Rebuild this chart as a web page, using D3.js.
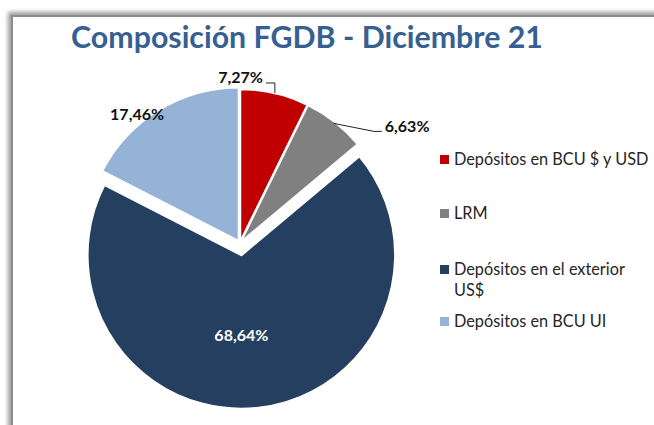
<!DOCTYPE html>
<html>
<head>
<meta charset="utf-8">
<script src="https://cdn.jsdelivr.net/npm/d3@7"></script>
<style>
  body { margin: 0; background: #fff; }
  svg { display: block; }
</style>
</head>
<body>
<div id="chart"></div>
<script>
// data
const categories = ["Depósitos en BCU $ y USD", "LRM", "Depósitos en el exterior US$", "Depósitos en BCU UI"];
const shares = [7.27, 6.63, 68.64, 17.46];
const valueLabels = ["7,27%", "6,63%", "68,64%", "17,46%"];
const legendLines = [["Depósitos en BCU $ y USD"], ["LRM"], ["Depósitos en el exterior", "US$"], ["Depósitos en BCU UI"]];
const colors = ["#C00000", "#808080", "#253F61", "#95B3D7"];
const titleText = "Composición FGDB - Diciembre 21";

const W = 654, H = 425;
const cx = 240, cy = 243, radius = 154;
const explode = [0, 0, 12, 2];

const svg = d3.select("#chart").append("svg")
    .attr("width", W)
    .attr("height", H);

// frame with soft shadow
const defs = svg.append("defs");
defs.append("filter").attr("id", "blur")
    .attr("x", "-10%").attr("y", "-10%").attr("width", "120%").attr("height", "120%")
    .append("feGaussianBlur").attr("stdDeviation", 2.2);

svg.append("rect")
    .attr("x", 11).attr("y", 15).attr("width", 760).attr("height", 520)
    .attr("fill", "none").attr("stroke", "#9a9a9a").attr("stroke-width", 6)
    .attr("filter", "url(#blur)");
svg.append("rect")
    .attr("x", 12).attr("y", 16).attr("width", 760).attr("height", 520)
    .attr("fill", "#fff").attr("stroke", "#8c8c8c").attr("stroke-width", 2);

// title
const title = svg.append("text")
    .attr("x", 307).attr("y", 48)
    .attr("text-anchor", "middle")
    .style("font-family", "Lato, 'Open Sans', sans-serif")
    .style("font-weight", "bold")
    .style("font-size", "29px")
    .style("fill", "#376092")
    .text(titleText);
// fit width to the reference (71 -> 543)
const tw = title.node().getComputedTextLength();
title.style("font-size", (29 * 472 / tw) + "px");

// pie
const pie = d3.pie().sort(null).value(d => d)(shares);
const arc = d3.arc().innerRadius(0).outerRadius(radius);

const g = svg.append("g").attr("transform", `translate(${cx},${cy})`);

function polar(a, r) {
    return [r * Math.sin(a), -r * Math.cos(a)];
}

g.selectAll("path.slice")
    .data(pie)
    .enter()
    .append("path")
        .attr("class", "slice")
        .attr("d", arc)
        .attr("transform", function(d, i) {
            const m = (d.startAngle + d.endAngle) / 2;
            const p = polar(m, explode[i]);
            return `translate(${p[0]},${p[1]})`;
        })
        .style("fill", (d, i) => colors[i])
        .style("stroke", "#fff")
        .style("stroke-width", 2.5)
        .style("stroke-linejoin", "round");

// labels
const labelFont = "Lato, 'Open Sans', sans-serif";
pie.forEach(function(d, i) {
    const m = (d.startAngle + d.endAngle) / 2;
    const e = polar(m, explode[i]);
    const t = g.append("text")
        .style("font-family", labelFont)
        .style("font-weight", "bold")
        .style("font-size", "16px")
        .text(valueLabels[i]);
    if (i === 0) {
        const a = polar(m, radius);
        g.append("path")
            .attr("d", `M${a[0]},${a[1]}V${a[1] - 10}H${a[0] - 9}`)
            .style("fill", "none").style("stroke", "#222").style("stroke-width", 1);
        t.attr("x", a[0] - 12).attr("y", a[1] - 10).attr("text-anchor", "end").style("fill", "#111");
    } else if (i === 1) {
        const a = polar(m, radius - 2);
        g.append("path")
            .attr("d", `M${a[0]},${a[1]}L${a[0] + 40},${a[1] + 8}H${a[0] + 48}`)
            .style("fill", "none").style("stroke", "#222").style("stroke-width", 1);
        t.attr("x", a[0] + 51).attr("y", a[1] + 9).style("fill", "#111");
    } else if (i === 2) {
        const p = polar(m, radius * 0.53);
        t.attr("x", e[0]).attr("y", p[1] + e[1] + 5)
            .attr("text-anchor", "middle").style("fill", "#fff");
    } else {
        const p = polar(m - 0.13, radius + 10);
        t.attr("x", p[0]).attr("y", p[1] + 5)
            .attr("text-anchor", "middle").style("fill", "#111");
    }
});

// legend
const legendY = [165, 219, 275, 327];
const legend = svg.append("g");
categories.forEach(function(c, i) {
    legend.append("rect")
        .attr("x", 440).attr("y", legendY[i] - 10)
        .attr("width", 9).attr("height", 9)
        .style("fill", colors[i]);
    legendLines[i].forEach(function(line, j) {
        legend.append("text")
            .attr("x", 454).attr("y", legendY[i] + j * 21)
            .style("font-family", labelFont)
            .style("font-size", "16.3px")
            .style("fill", "#262626")
            .text(line);
    });
});
</script>
</body>
</html>
